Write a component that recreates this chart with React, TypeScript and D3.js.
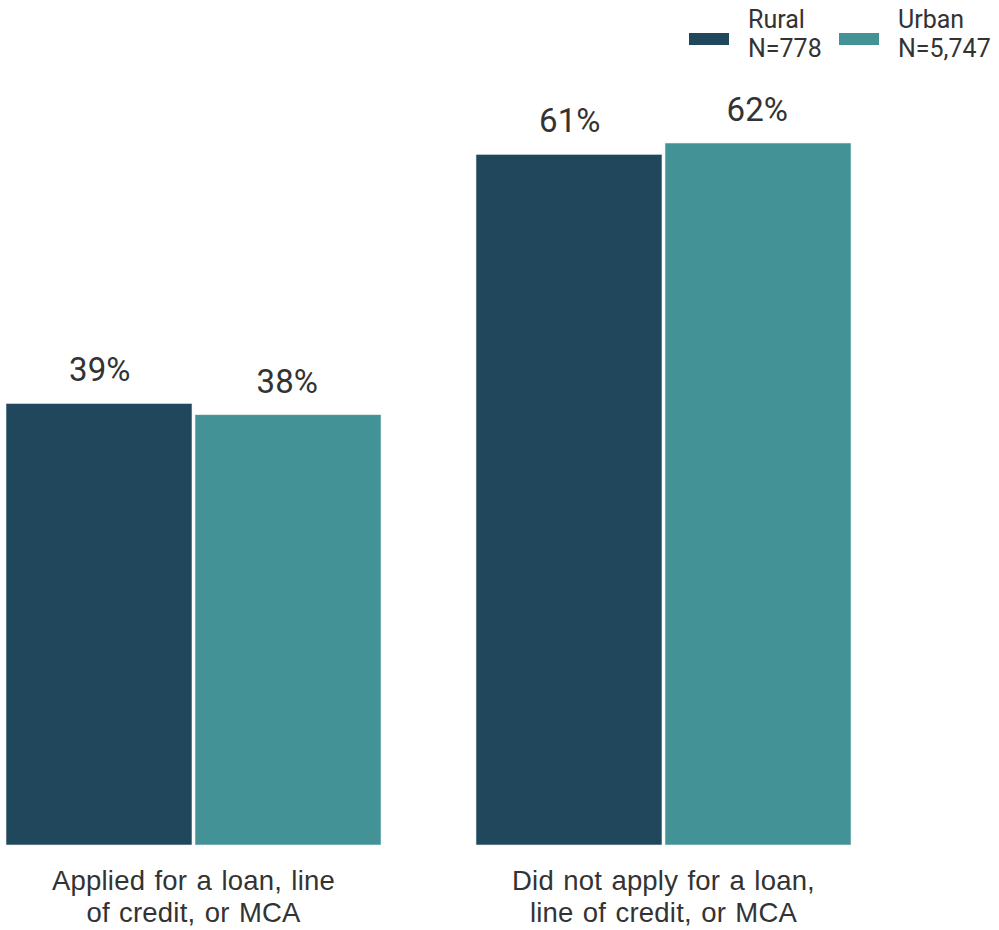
import React from "react";
import * as d3 from "d3";

const categories = [
  ["Applied for a loan, line", "of credit, or MCA"],
  ["Did not apply for a loan,", "line of credit, or MCA"],
];
const seriesNames = ["Rural", "Urban"];
const seriesN = ["N=778", "N=5,747"];
const ruralValues = [39, 61];
const urbanValues = [38, 62];
const colors = ["#20475c", "#439296"];

const W = 999;
const H = 930;
const FONT = "Roboto, 'Noto Sans', sans-serif";
const CAT_FONT = "'Liberation Sans', Arial, sans-serif";

export default function App() {
  const keys = categories.map((_, i) => String(i));
  const x = d3.scaleBand<string>().domain(keys).range([6, 851]).paddingInner(0.2021).paddingOuter(0);
  const xs = d3.scaleBand<string>().domain(seriesNames).range([0, x.bandwidth()]).paddingInner(0);
  const y = d3.scaleLinear().domain([0, 62]).range([845, 143]);
  const series = [ruralValues, urbanValues];

  return (
    <svg width={W} height={H} style={{ position: "absolute", left: 0, top: 0 }} fontFamily={FONT}>
      <rect width={W} height={H} fill="#fff" />
      {keys.map((k, ci) => (
        <g key={k} transform={`translate(${x(k)},0)`}>
          {seriesNames.map((s, si) => {
            const v = series[si][ci];
            const bx = xs(s)!;
            const bw = xs.bandwidth();
            return (
              <g key={s}>
                <rect
                  x={bx + (si === 0 ? 0 : 1.5)}
                  y={y(v)}
                  width={bw - 1.5}
                  height={y(0) - y(v)}
                  fill={colors[si]}
                  stroke="#e8eef0"
                  strokeWidth={0.6}
                />
                <text
                  x={bx + bw / 2}
                  y={y(v) - 22}
                  textAnchor="middle"
                  fontSize={33}
                  fill="#333"
                >
                  {v}%
                </text>
              </g>
            );
          })}
          {categories[ci].map((line, li) => (
            <text
              key={li}
              x={x.bandwidth() / 2}
              y={890 + li * 32}
              textAnchor="middle"
              fontSize={27.5}
              fontFamily={CAT_FONT}
              letterSpacing={0.2}
              wordSpacing={1.5}
              fill="#333"
            >
              {line}
            </text>
          ))}
        </g>
      ))}
      {seriesNames.map((s, i) => (
        <g key={s} transform={`translate(${689 + i * 150},0)`}>
          <rect x={0} y={33} width={40} height={12} fill={colors[i]} />
          <text x={59} y={28} fontSize={25} fill="#333">{s}</text>
          <text x={59} y={57} fontSize={25} fill="#333">{seriesN[i]}</text>
        </g>
      ))}
    </svg>
  );
}
